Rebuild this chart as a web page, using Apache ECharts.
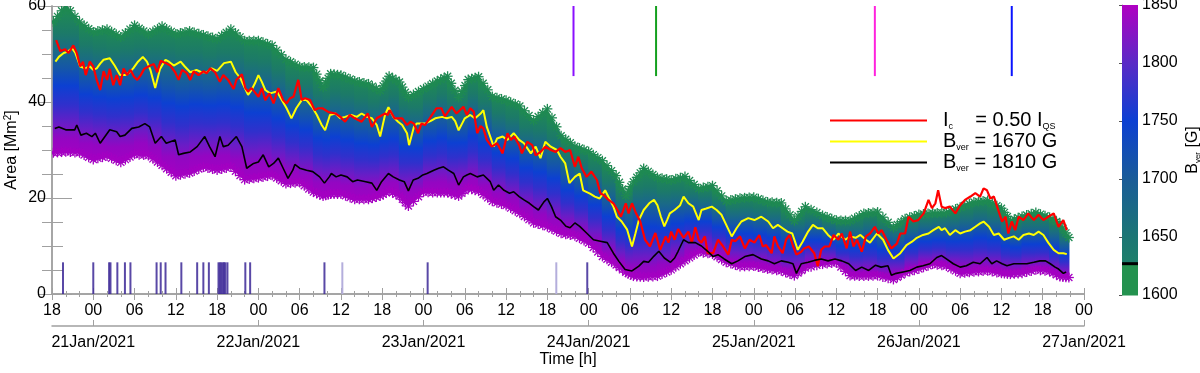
<!DOCTYPE html>
<html>
<head>
<meta charset="utf-8">
<title>Area vs time</title>
<script src="https://cdn.jsdelivr.net/npm/echarts@6.0.0/dist/echarts.min.js"></script>
<style>
  html, body { margin: 0; padding: 0; background: #fff; }
  #chart { width: 1200px; height: 373px; }
</style>
</head>
<body>
<div id="chart"></div>
<script>
// time axis: hours since 20 Jan 2021 18:00
const HOUR_LABELS = ['18','00','06','12','18','00','06','12','18','00','06','12','18',
  '00','06','12','18','00','06','12','18','00','06','12','18','00'];
const DAY_TICKS = [6, 30, 54, 78, 102, 126, 150];
const DAY_LABELS = ['21Jan/2021','22Jan/2021','23Jan/2021','24Jan/2021','25Jan/2021','26Jan/2021','27Jan/2021'];

// envelope of the B_ver threshold band (1850 G at the bottom, 1600 G at the top)
const BAND_HOURS = [0.2,2,4,6,8,10,12,14,16,18,20,22,24,26,28,30,32,34,36,38,39.4,40.5,42,44,46,47.7,49,50.5,51.8,
  54,56,57.5,59.1,60.5,62,64,66,68,70,72,74,76,78,80,82,83.4,84.5,86,88,90,92,94,96,98,100,102,104,106,107.9,
  109.5,112,114,116,118,120,122.3,124,126,128,130,132,134,136,138,139.3,141,143,145,146.5,147.8];
const BAND_BOTTOM = [28.6,28.8,28.6,27.2,27.9,26.6,28.3,28.0,26.0,23.8,24.4,25.6,25.0,25.6,23.0,23.4,23.9,22.2,22.4,20.4,19.6,20.0,20.0,18.9,18.9,19.6,20.6,19.6,17.5,
  20.4,20.3,20.3,19.6,21.2,20.6,18.5,17.6,16.0,14.0,13.2,11.8,11.3,9.8,7.0,5.2,3.7,2.9,2.7,2.9,4.2,6.1,7.9,7.5,5.8,4.9,5.0,4.4,4.0,3.0,
  4.6,5.4,5.7,3.0,2.9,3.0,2.2,3.6,4.4,5.4,5.0,3.5,3.8,4.0,3.5,3.3,3.5,4.2,3.9,2.8,2.6];
const BAND_TOP = [57.5,61.0,57.5,55.4,56.0,54.4,56.8,55.0,56.6,55.0,55.6,54.8,54.0,56.0,53.6,53.6,52.6,49.7,48.2,48.0,43.9,46.7,46.4,45.2,44.6,43.2,46.2,45.0,41.8,
  43.6,45.2,46.2,41.8,45.5,46.1,42.0,41.2,40.0,37.0,39.4,33.8,31.6,30.5,28.6,25.5,21.3,24.2,27.0,25.1,24.6,25.3,22.8,23.4,20.2,20.8,21.0,20.0,19.8,16.1,
  19.0,17.2,16.2,16.1,17.6,17.9,14.7,16.5,17.4,17.7,17.8,18.9,20.0,20.3,18.7,16.1,17.0,17.8,16.8,15.5,12.6];

// [hour, area Mm^2]
const RED_LINE = [[0.6,52.9],[1.2,50.6],[1.9,51.0],[2.4,50.2],[3.1,51.8],[3.6,50.2],[4.1,47.4],[4.5,48.4],[4.9,45.6],[5.5,48.4],[6.0,47.4],[6.5,44.6],[7.0,42.5],[7.5,46.4],[8.0,44.6],[8.4,46.9],[8.9,43.5],[9.4,45.6],[9.9,43.5],[10.4,47.0],[10.9,45.6],[11.4,46.7],[11.9,45.3],[12.4,44.6],[12.9,45.6],[13.4,46.9],[14.3,47.6],[14.8,47.9],[15.3,46.2],[15.8,48.6],[16.4,48.2],[17.2,47.6],[17.9,46.2],[18.4,44.6],[18.9,46.7],[19.6,46.0],[20.1,44.6],[20.6,46.4],[21.3,45.6],[22.0,46.4],[22.5,46.0],[23.0,47.0],[23.7,46.2],[24.4,44.2],[24.9,45.6],[25.6,44.6],[26.4,42.7],[26.8,44.6],[27.6,45.8],[28.1,42.9],[28.5,42.2],[29.0,42.9],[29.5,42.0],[30.0,41.1],[30.5,42.9],[31.0,40.4],[31.6,41.8],[32.2,39.7],[32.9,42.9],[33.6,40.4],[34.1,39.7],[34.6,40.8],[35.1,41.1],[35.8,44.6],[36.3,40.4],[36.8,40.8],[37.5,40.4],[38.2,38.3],[38.7,38.7],[39.3,38.7],[40.2,37.9],[41.2,37.6],[41.9,36.9],[42.6,35.9],[43.3,37.3],[44.0,36.6],[45.0,35.9],[45.9,37.6],[46.5,34.8],[47.2,36.6],[48.4,37.6],[48.8,37.3],[49.1,38.3],[49.8,36.6],[50.9,36.6],[51.6,35.2],[52.1,35.9],[52.6,35.5],[53.2,33.5],[53.7,35.5],[54.2,35.2],[54.9,36.6],[55.9,38.7],[56.6,38.7],[57.1,37.0],[58.1,39.0],[58.8,37.6],[59.8,39.0],[60.3,37.3],[60.8,38.7],[61.3,38.0],[61.8,33.5],[62.3,35.0],[62.7,34.5],[63.2,32.1],[63.9,30.7],[64.7,31.4],[65.5,29.3],[66.2,33.5],[66.7,32.1],[67.2,32.8],[67.9,31.0],[68.3,29.3],[69.1,31.7],[69.8,31.0],[70.3,28.9],[71.0,29.6],[71.7,30.7],[72.5,30.0],[73.2,29.6],[73.9,30.4],[74.6,29.6],[75.3,30.0],[76.0,26.5],[76.5,28.6],[77.0,26.2],[77.7,24.4],[78.4,25.5],[79.2,23.75],[79.7,21.0],[80.2,20.6],[80.9,19.6],[81.6,18.9],[82.2,17.5],[82.7,16.1],[83.4,18.9],[83.8,16.8],[84.3,18.9],[84.8,17.1],[85.5,15.1],[86.2,11.3],[86.9,9.9],[87.7,12.7],[88.4,9.2],[89.2,12.0],[89.6,10.7],[90.0,13.0],[90.5,11.3],[91.0,13.5],[91.8,11.7],[92.5,13.0],[93.0,10.7],[93.5,13.9],[94.0,11.3],[94.4,10.7],[94.9,12.0],[95.3,8.5],[96.1,8.5],[96.8,11.3],[97.5,10.0],[98.3,8.2],[98.8,11.3],[99.3,11.0],[100.0,12.0],[100.7,9.5],[101.4,11.3],[102.1,10.7],[102.8,12.3],[103.3,9.9],[103.8,10.2],[104.6,8.5],[105.0,12.0],[105.5,10.0],[106.2,8.5],[106.7,11.3],[107.2,12.3],[107.7,10.0],[108.2,8.2],[108.9,8.8],[109.3,9.5],[110.0,9.9],[110.8,8.5],[111.3,5.8],[111.8,9.2],[112.3,9.9],[113.0,9.9],[113.6,12.3],[114.3,11.3],[114.8,12.6],[115.5,9.5],[116.0,13.0],[116.5,9.9],[117.0,11.3],[117.7,8.8],[118.3,12.0],[118.9,12.6],[119.6,14.0],[120.1,12.6],[120.6,13.3],[121.3,11.3],[122.0,9.5],[122.8,10.5],[123.3,12.6],[124.0,12.6],[124.5,16.1],[125.2,15.1],[125.9,15.4],[126.7,16.8],[127.4,19.6],[127.9,17.9],[128.4,18.9],[128.8,21.6],[129.3,18.2],[129.8,17.9],[130.5,18.2],[131.3,16.8],[132.0,18.5],[132.7,19.6],[133.5,20.3],[134.2,21.0],[134.9,20.3],[135.4,22.0],[135.9,21.6],[136.4,19.9],[136.9,20.3],[137.6,17.2],[138.1,15.1],[138.6,16.1],[139.0,12.6],[139.5,15.1],[140.0,13.3],[140.5,16.1],[141.2,15.4],[141.9,16.8],[142.7,15.4],[143.4,16.5],[144.1,15.4],[144.8,16.1],[145.6,16.8],[146.3,14.0],[147.0,15.4],[147.5,13.3]];

const YELLOW_LINE = [[0.5,48.4],[1.0,49.4],[1.7,50.2],[2.3,50.5],[2.9,51.2],[3.4,50.2],[4.1,47.4],[4.8,47.0],[5.5,47.4],[6.0,46.7],[6.5,47.0],[7.0,48.0],[7.5,48.8],[8.4,49.1],[9.1,47.6],[9.9,45.6],[10.6,45.6],[11.1,46.0],[11.8,47.0],[12.5,48.4],[13.2,49.4],[13.8,48.4],[14.3,46.7],[15.0,42.9],[15.7,46.9],[16.5,48.8],[17.0,48.4],[17.7,47.6],[18.7,48.4],[19.3,47.4],[20.1,46.2],[21.0,46.7],[21.7,46.2],[22.5,46.2],[23.2,47.0],[24.0,46.5],[25.0,48.1],[26.0,48.4],[26.7,46.2],[27.4,44.9],[28.0,43.0],[28.5,41.5],[29.0,42.5],[29.5,43.9],[30.0,45.6],[30.5,44.2],[31.0,42.5],[31.7,41.8],[32.7,42.2],[33.4,40.4],[34.1,38.7],[34.8,36.6],[35.5,38.7],[36.3,40.4],[37.0,40.4],[37.8,39.0],[38.5,37.3],[39.2,35.2],[39.7,34.1],[40.4,37.3],[41.2,37.6],[41.9,36.6],[42.6,36.9],[43.5,37.3],[44.3,36.9],[45.0,37.6],[45.8,36.9],[46.5,36.6],[47.2,35.2],[47.7,32.8],[48.4,37.3],[48.9,38.9],[49.6,36.9],[50.3,35.9],[50.9,35.2],[51.6,33.5],[51.9,31.0],[52.6,34.8],[53.0,35.5],[53.5,35.5],[54.2,35.5],[55.0,36.0],[55.7,36.6],[56.7,36.9],[57.4,36.6],[58.1,36.9],[58.6,36.0],[59.1,34.1],[59.6,35.5],[60.0,36.6],[60.8,37.3],[61.5,36.6],[62.3,37.6],[62.7,38.3],[63.2,34.8],[63.7,32.8],[64.2,30.7],[64.7,32.4],[65.5,32.8],[66.2,32.1],[67.1,33.5],[67.9,32.1],[68.6,31.4],[69.6,29.3],[70.3,30.7],[71.0,28.3],[71.7,31.7],[72.5,30.7],[73.4,30.0],[73.9,28.6],[74.6,27.2],[75.2,23.1],[76.0,24.4],[76.7,25.1],[77.2,21.6],[78.2,20.9],[78.9,20.3],[79.6,19.9],[80.4,21.6],[81.1,19.6],[81.6,18.2],[82.1,16.1],[82.8,15.1],[83.6,13.4],[84.3,9.9],[84.8,12.6],[85.3,15.4],[86.0,17.5],[86.8,18.9],[87.5,19.6],[88.0,18.5],[88.5,16.1],[89.0,14.1],[89.4,15.4],[89.8,16.8],[90.5,17.5],[91.3,18.5],[91.8,20.3],[92.5,18.9],[93.2,18.2],[94.0,15.4],[94.4,17.5],[95.1,17.8],[95.9,18.2],[96.6,17.5],[97.3,16.5],[98.0,14.4],[98.8,12.0],[99.5,13.7],[100.2,15.1],[101.2,15.8],[102.1,15.4],[103.1,16.1],[104.1,15.1],[104.8,13.7],[105.5,14.4],[106.2,13.7],[106.9,13.0],[107.6,12.6],[108.4,9.2],[109.1,10.9],[109.9,13.0],[110.6,14.4],[111.3,13.7],[112.0,13.7],[112.8,12.3],[113.6,11.3],[114.3,12.6],[115.3,11.3],[116.0,12.0],[116.8,11.7],[117.5,12.3],[118.3,11.3],[118.9,10.7],[119.9,12.6],[120.8,11.3],[121.5,9.2],[122.3,7.4],[123.3,8.5],[124.2,10.2],[125.0,10.9],[125.7,11.7],[126.6,12.3],[127.4,12.6],[128.1,13.3],[128.9,14.0],[129.3,13.3],[129.8,13.7],[130.5,12.3],[131.3,13.3],[132.0,12.6],[132.7,13.0],[133.5,13.3],[134.2,14.0],[134.9,14.7],[135.4,15.1],[136.2,14.0],[136.9,12.3],[137.6,12.6],[138.4,11.3],[139.1,11.7],[139.8,12.0],[140.5,11.3],[141.2,12.3],[142.0,12.6],[142.7,12.3],[143.4,13.0],[144.1,12.3],[144.8,10.7],[145.6,9.2],[146.3,8.5],[147.0,8.5],[147.5,8.3]];

const BLACK_LINE = [[0.4,34.5],[1.0,34.8],[2.0,34.2],[3.3,34.2],[3.6,35.2],[4.2,33.1],[5.0,33.5],[5.8,32.8],[6.3,33.5],[7.0,31.4],[7.7,32.8],[8.4,34.2],[9.4,33.8],[9.9,32.8],[10.6,33.1],[11.6,34.5],[12.6,34.8],[13.5,35.5],[14.2,34.8],[15.0,31.4],[15.9,32.8],[16.6,31.4],[17.9,32.1],[18.4,29.0],[19.1,29.3],[20.1,29.6],[21.1,30.7],[22.2,32.8],[22.9,30.7],[23.7,28.6],[24.4,32.8],[24.9,30.7],[25.6,31.0],[26.8,32.8],[27.6,30.7],[28.3,26.2],[29.3,27.2],[30.0,27.5],[30.7,29.0],[31.5,26.5],[32.2,27.2],[32.9,28.3],[33.6,26.2],[34.3,24.1],[35.0,25.8],[35.3,27.0],[36.0,26.2],[37.0,25.8],[37.9,25.5],[38.9,24.4],[39.6,23.1],[40.3,24.4],[40.6,25.1],[41.3,24.4],[42.0,24.8],[42.9,24.4],[43.7,23.4],[44.4,23.75],[45.6,23.4],[46.5,23.1],[47.2,21.6],[47.9,23.4],[48.9,25.1],[49.6,24.4],[50.5,23.75],[51.2,23.4],[51.8,21.5],[52.5,23.75],[53.2,24.1],[53.9,24.8],[54.5,25.1],[55.5,25.8],[56.2,26.2],[56.9,26.5],[57.6,25.8],[58.4,25.1],[59.1,22.7],[59.8,24.4],[60.3,24.8],[60.8,25.1],[61.8,24.4],[62.7,24.8],[63.7,23.4],[64.2,21.6],[64.9,22.7],[65.7,21.6],[66.5,21.0],[67.1,21.3],[67.9,20.3],[68.6,19.6],[69.4,18.9],[70.0,18.2],[70.7,17.5],[71.5,19.2],[72.0,19.9],[72.6,18.2],[73.2,16.1],[73.9,15.4],[74.7,14.1],[75.3,13.8],[76.0,14.8],[76.7,14.1],[77.7,12.7],[78.7,11.3],[79.7,11.0],[80.7,10.7],[81.6,8.5],[82.4,6.8],[83.3,5.1],[84.3,4.8],[85.3,5.8],[86.0,6.8],[86.7,6.6],[87.5,7.9],[88.2,8.9],[89.0,7.5],[89.9,6.6],[90.5,7.5],[91.0,8.9],[91.8,11.3],[92.5,10.7],[93.5,10.7],[94.4,10.0],[95.3,8.9],[96.1,7.8],[96.8,8.2],[97.7,7.3],[98.8,6.3],[99.7,6.9],[100.7,7.8],[101.9,8.2],[103.1,7.3],[104.1,6.9],[105.0,6.3],[106.0,6.9],[107.0,6.6],[107.7,6.3],[108.2,4.3],[108.9,6.3],[109.9,6.6],[110.8,7.0],[111.8,7.3],[112.8,6.9],[113.8,7.3],[114.8,6.9],[115.8,6.3],[116.8,4.9],[117.7,5.6],[118.7,4.9],[119.7,6.0],[120.5,5.6],[121.5,5.9],[122.0,3.9],[122.7,4.3],[123.7,4.6],[124.7,4.9],[125.7,5.6],[126.6,5.9],[127.6,6.3],[128.6,7.6],[129.3,8.0],[130.0,7.3],[131.0,6.3],[132.0,5.6],[132.9,5.9],[133.9,6.6],[134.9,6.3],[135.9,7.6],[136.6,6.3],[137.3,6.9],[138.1,6.3],[138.8,5.9],[139.8,6.3],[140.7,6.3],[141.7,6.3],[142.7,6.6],[143.6,6.9],[144.4,6.9],[145.1,6.3],[145.8,5.6],[146.3,5.2],[147.0,4.3],[147.4,4.6]];

// event markers along the bottom (hours), and the faint ones
const EVENT_HOURS = [1.6,6.0,8.3,8.5,9.5,10.6,11.4,15.2,15.8,16.5,18.8,21.1,22.0,22.8,24.2,24.4,24.6,24.8,25.0,25.2,25.5,28.1,28.8,39.6,54.6,77.8];
const FAINT_EVENT_HOURS = [42.2, 73.3];
const EVENT_TOP = 6.6;
// coloured markers hanging from the top
const MARKER_HOURS = [75.8, 87.8, 119.6, 139.5];
const MARKER_LOW = 45.4;
const MARKER_COLORS = ['#8a10ff', '#14a01e', '#ff22dd', '#0a14ff'];

// colour bar
const CBAR_LEVELS = [1600, 1627, 1650, 1700, 1750, 1800, 1850];
const CBAR_MARK = 1627;
const CBAR_COLORS = [['#24924f','#24924f'], ['#1e806a','#1c7674'], ['#1c7674','#1a5c98'],
  ['#1a5c98','#0c40d2'], ['#0c40d2','#5a2ac6'], ['#5a2ac6','#b000c2']];

const BAND_STOPS = [
  { offset: 0, color: '#a400c2' }, { offset: 0.12, color: '#9406c2' },
  { offset: 0.22, color: '#6a1cc6' }, { offset: 0.35, color: '#3030cc' },
  { offset: 0.48, color: '#0c40d2' }, { offset: 0.6, color: '#1556a8' },
  { offset: 0.72, color: '#1a6a86' }, { offset: 0.84, color: '#1c7a68' },
  { offset: 1, color: '#1f8a52' }
];

const FONT = '"Liberation Sans", Arial, Helvetica, sans-serif';
const GRAY = '#a0a0a0';

function asterisk(cx, cy, r, color) {
  const out = [];
  for (let k = 0; k < 4; k++) {
    const a = k * Math.PI / 4, dx = r * Math.cos(a), dy = r * Math.sin(a);
    out.push({ type: 'line', shape: { x1: cx - dx, y1: cy - dy, x2: cx + dx, y2: cy + dy },
      style: { stroke: color, lineWidth: 1.3 } });
  }
  return out;
}

function renderBand(params, api) {
  const i = params.dataIndex;
  const children = [];
  const t0 = api.coord([BAND_HOURS[i], BAND_TOP[i]]);
  const b0 = api.coord([BAND_HOURS[i], BAND_BOTTOM[i]]);
  if (i < BAND_HOURS.length - 1) {
    const t1 = api.coord([BAND_HOURS[i + 1], BAND_TOP[i + 1]]);
    const b1 = api.coord([BAND_HOURS[i + 1], BAND_BOTTOM[i + 1]]);
    const yb = (b0[1] + b1[1]) / 2, yt = (t0[1] + t1[1]) / 2;
    children.push({
      type: 'polygon',
      shape: { points: [[t0[0] - 0.6, t0[1] + 3], [t1[0] + 0.6, t1[1] + 3], [b1[0] + 0.6, b1[1] - 3], [b0[0] - 0.6, b0[1] - 3]] },
      style: { fill: new echarts.graphic.LinearGradient(0, yb, 0, yt, BAND_STOPS, true) }
    });
    for (let f = 1; f < 3; f++) {
      const s = f / 3;
      children.push(...asterisk(t0[0] + (t1[0] - t0[0]) * s, t0[1] + (t1[1] - t0[1]) * s + 4, 5, '#1f8a52'));
      children.push(...asterisk(b0[0] + (b1[0] - b0[0]) * s, b0[1] + (b1[1] - b0[1]) * s - 4, 5, '#a400c2'));
    }
  }
  children.push(...asterisk(t0[0], t0[1] + 4, 5, '#1f8a52'));
  children.push(...asterisk(b0[0], b0[1] - 4, 5, '#a400c2'));
  return { type: 'group', children };
}

function vbar(lo, hi, width, colorOf) {
  return function (params, api) {
    const top = api.coord([api.value(0), hi]);
    const bot = api.coord([api.value(0), lo]);
    return { type: 'rect', shape: { x: top[0] - width / 2, y: top[1], width: width, height: bot[1] - top[1] },
      style: { fill: colorOf(params.dataIndex) } };
  };
}

function renderCbar(params, api) {
  const i = params.dataIndex;
  const p0 = api.coord([0, CBAR_LEVELS[i + 1]]);
  const p1 = api.coord([1, CBAR_LEVELS[i]]);
  const stops = [{ offset: 0, color: CBAR_COLORS[i][0] }, { offset: 1, color: CBAR_COLORS[i][1] }];
  return { type: 'rect', shape: { x: p0[0], y: p0[1], width: p1[0] - p0[0], height: p1[1] - p0[1] + 0.5 },
    style: { fill: new echarts.graphic.LinearGradient(0, p1[1], 0, p0[1], stops, true) } };
}

const LEGEND_TEXT = {
  Ic: 'I{sub|c}    = 0.50 I{sub|QS}',
  B1670: 'B{sub|ver} = 1670 G',
  B1810: 'B{sub|ver} = 1810 G'
};

const tickLabel = { color: '#000', fontSize: 16, fontFamily: FONT };
const axisLine = { show: true, lineStyle: { color: GRAY, width: 1.5 } };

const chart = echarts.init(document.getElementById('chart'));
chart.setOption({
  animation: false,
  backgroundColor: '#fff',
  grid: [
    { left: 52, top: 6, width: 1032, height: 288, containLabel: false, outerBoundsMode: 'none' },
    { left: 1122, top: 5, width: 16, height: 290, containLabel: false, outerBoundsMode: 'none' }
  ],
  legend: {
    data: ['Ic', 'B1670', 'B1810'],
    orient: 'vertical', left: 825, top: 105, itemWidth: 97, itemHeight: 2, itemGap: 0,
    icon: 'rect', selectedMode: false,
    formatter: name => LEGEND_TEXT[name],
    textStyle: {
      color: '#000', fontSize: 20, fontFamily: FONT, lineHeight: 21, padding: [0, 0, 0, 11],
      rich: { sub: { fontSize: 9, fontFamily: FONT, color: '#000', verticalAlign: 'bottom', lineHeight: 10 } }
    }
  },
  xAxis: [
    {
      gridIndex: 0, type: 'value', min: 0, max: 150, interval: 6, position: 'bottom',
      axisLine, splitLine: { show: false },
      axisTick: { inside: true, length: 6, lineStyle: { color: GRAY } },
      minorTick: { show: true, splitNumber: 3, length: 3, lineStyle: { color: GRAY } },
      axisLabel: Object.assign({ margin: 9, showMinLabel: true, showMaxLabel: true,
        formatter: v => HOUR_LABELS[Math.round(v / 6)] }, tickLabel)
    },
    {
      gridIndex: 0, type: 'value', min: 0, max: 150, interval: 6, position: 'top',
      axisLine, splitLine: { show: false }, axisLabel: { show: false },
      axisTick: { inside: true, length: 6, lineStyle: { color: GRAY } },
      minorTick: { show: true, splitNumber: 3, length: 3, lineStyle: { color: GRAY } }
    },
    {
      gridIndex: 0, type: 'value', min: 0, max: 150, position: 'bottom', offset: 32,
      axisLine, splitLine: { show: false },
      axisTick: { inside: true, length: 6, customValues: DAY_TICKS, lineStyle: { color: GRAY } },
      axisLabel: Object.assign({ margin: 9, customValues: DAY_TICKS,
        formatter: v => DAY_LABELS[DAY_TICKS.indexOf(v)] }, tickLabel),
      name: 'Time [h]', nameLocation: 'middle', nameGap: 26, nameMoveOverlap: false,
      nameTextStyle: { color: '#000', fontSize: 16, fontFamily: FONT }
    },
    { gridIndex: 1, type: 'value', min: 0, max: 1, show: false }
  ],
  yAxis: [
    {
      gridIndex: 0, type: 'value', min: 0, max: 60, interval: 20, position: 'left',
      axisLine, splitLine: { show: false },
      axisTick: { inside: true, length: 20, lineStyle: { color: GRAY } },
      minorTick: { show: true, splitNumber: 4, length: 11, lineStyle: { color: GRAY } },
      axisLabel: Object.assign({ margin: 6 }, tickLabel),
      name: 'Area [Mm{sup|2}]', nameLocation: 'middle', nameGap: 31, nameMoveOverlap: false,
      nameTextStyle: { color: '#000', fontSize: 16, fontFamily: FONT, lineHeight: 18,
        rich: { sup: { fontSize: 10, fontFamily: FONT, color: '#000', verticalAlign: 'top', lineHeight: 10 } } }
    },
    {
      gridIndex: 0, type: 'value', min: 0, max: 60, interval: 20, position: 'right',
      axisLine, splitLine: { show: false }, axisLabel: { show: false },
      axisTick: { inside: true, length: 14, lineStyle: { color: GRAY } },
      minorTick: { show: true, splitNumber: 4, length: 10, lineStyle: { color: GRAY } }
    },
    {
      gridIndex: 1, type: 'value', min: 1600, max: 1850, interval: 50, position: 'right',
      axisLine: { show: true, lineStyle: { color: GRAY, width: 1 } }, splitLine: { show: false },
      axisTick: { inside: true, length: 3, lineStyle: { color: '#555' } },
      axisLabel: Object.assign({ margin: 4, formatter: v => String(v) }, tickLabel),
      name: 'B{sub|ver} [G]', nameLocation: 'middle', nameGap: 46, nameRotate: 90, nameMoveOverlap: false,
      nameTextStyle: { color: '#000', fontSize: 16, fontFamily: FONT, lineHeight: 18,
        rich: { sub: { fontSize: 8, fontFamily: FONT, color: '#000', verticalAlign: 'bottom', lineHeight: 10 } } }
    }
  ],
  series: [
    {
      type: 'custom', xAxisIndex: 0, yAxisIndex: 0, clip: true, silent: true,
      data: BAND_HOURS.map((h, i) => [h, BAND_BOTTOM[i], BAND_TOP[i]]),
      encode: { x: 0, y: [1, 2] },
      renderItem: renderBand, z: 1
    },
    {
      type: 'custom', xAxisIndex: 0, yAxisIndex: 0, silent: true,
      data: FAINT_EVENT_HOURS.map(h => [h, 0]), encode: { x: 0, y: 1 },
      renderItem: vbar(0, EVENT_TOP, 2, () => '#b4aedc'), z: 2
    },
    {
      type: 'custom', xAxisIndex: 0, yAxisIndex: 0, silent: true,
      data: EVENT_HOURS.map(h => [h, 0]), encode: { x: 0, y: 1 },
      renderItem: vbar(0, EVENT_TOP, 2, () => 'rgba(60,40,150,0.85)'), z: 2
    },
    {
      type: 'custom', xAxisIndex: 0, yAxisIndex: 0, silent: true,
      data: MARKER_HOURS.map(h => [h, MARKER_LOW]), encode: { x: 0, y: 1 },
      renderItem: vbar(MARKER_LOW, 60, 2, i => MARKER_COLORS[i]), z: 2
    },
    {
      name: 'B1670', type: 'line', xAxisIndex: 0, yAxisIndex: 0, data: YELLOW_LINE,
      color: '#ffff00', showSymbol: false, symbol: 'none', lineStyle: { width: 2, color: '#ffff00' }, z: 3
    },
    {
      name: 'Ic', type: 'line', xAxisIndex: 0, yAxisIndex: 0, data: RED_LINE,
      color: '#ff0000', showSymbol: false, symbol: 'none', lineStyle: { width: 2.2, color: '#ff0000' }, z: 4
    },
    {
      name: 'B1810', type: 'line', xAxisIndex: 0, yAxisIndex: 0, data: BLACK_LINE,
      color: '#000000', showSymbol: false, symbol: 'none', lineStyle: { width: 1.6, color: '#000000' }, z: 4
    },
    {
      type: 'custom', xAxisIndex: 3, yAxisIndex: 2, silent: true,
      data: CBAR_LEVELS.slice(0, -1).map((lv, i) => [0, lv, CBAR_LEVELS[i + 1]]),
      encode: { x: 0, y: [1, 2] }, renderItem: renderCbar
    },
    {
      type: 'custom', xAxisIndex: 3, yAxisIndex: 2, silent: true,
      data: [[0, CBAR_MARK]], encode: { x: 0, y: 1 }, z: 3,
      renderItem: (params, api) => {
        const p0 = api.coord([0, api.value(1)]), p1 = api.coord([1, api.value(1)]);
        return { type: 'rect', shape: { x: p0[0], y: p0[1] - 1.5, width: p1[0] - p0[0], height: 3 }, style: { fill: '#000' } };
      }
    }
  ]
});
</script>
</body>
</html>
